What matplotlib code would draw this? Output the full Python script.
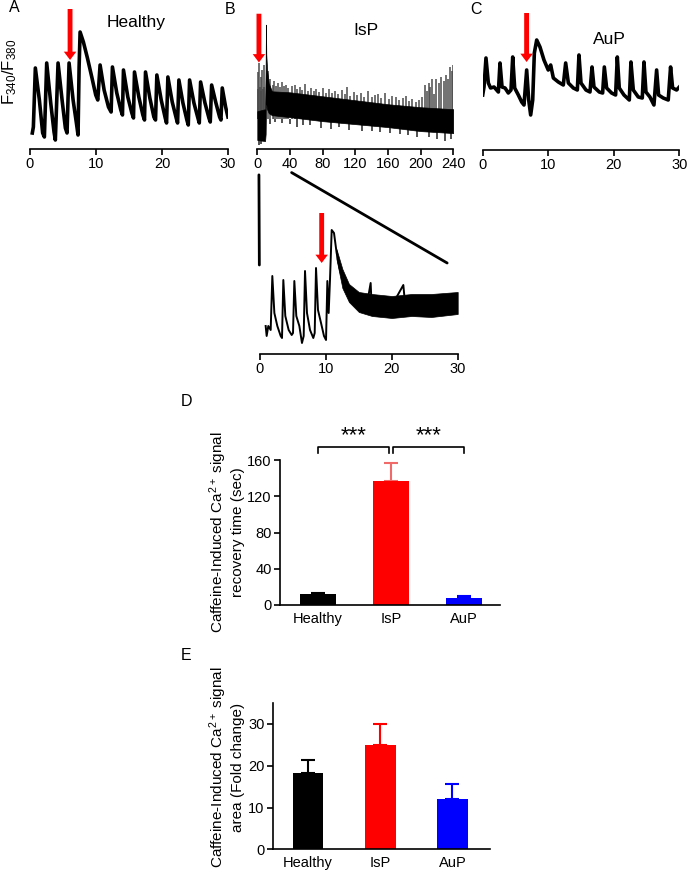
import matplotlib
matplotlib.use("Agg")
import matplotlib.pyplot as plt
from matplotlib.patches import ConnectionPatch

plt.rcParams['font.family'] = ['Liberation Sans', 'DejaVu Sans']

# ---- panel A: Healthy trace (time s, F340/F380 a.u.)
a_t = [0.35, 0.51, 0.81, 1.42, 1.92, 2.18, 2.53, 3.14, 3.64, 3.84, 4.25, 4.86, 5.36, 5.61,
       5.92, 6.53, 7.03, 7.28, 7.44, 7.59, 8.09, 8.70, 9.36, 9.96, 10.27, 10.62, 11.23, 11.89,
       12.29, 12.49, 13.15, 13.76, 14.01, 14.16, 14.82, 15.43, 15.68, 15.83, 16.49, 17.10,
       17.35, 17.50, 18.16, 18.77, 19.02, 19.22, 19.88, 20.49, 20.69, 20.89, 21.55, 22.15,
       22.36, 22.56, 23.17, 23.77, 23.98, 24.18, 24.84, 25.44, 25.65, 25.85, 26.51, 27.11,
       27.31, 27.52, 28.17, 28.73, 28.93, 29.13, 29.64, 29.99]
a_v = [0.16, 0.22, 0.81, 0.49, 0.16, 0.12, 0.86, 0.46, 0.17, 0.09, 0.86, 0.49, 0.21, 0.16,
       0.86, 0.49, 0.26, 0.14, 0.82, 1.17, 1.07, 0.91, 0.72, 0.54, 0.49, 0.84, 0.59, 0.42,
       0.37, 0.82, 0.56, 0.39, 0.34, 0.79, 0.52, 0.36, 0.31, 0.77, 0.52, 0.34,
       0.29, 0.77, 0.51, 0.32, 0.29, 0.74, 0.49, 0.31, 0.26, 0.72, 0.47, 0.31,
       0.26, 0.69, 0.46, 0.29, 0.24, 0.69, 0.46, 0.31, 0.26, 0.67, 0.46, 0.31,
       0.27, 0.64, 0.46, 0.32, 0.29, 0.61, 0.42, 0.32]

# ---- panel B: IsP trace, dense band (core envelope + spikes)
b_x = [0, 9.5, 10.2, 10.6, 11.0, 12, 14, 18, 40, 80, 120, 160, 200, 240]
b_upper = [0.38, 0.40, 0.80, 1.25, 0.95, 0.80, 0.66, 0.58, 0.57, 0.53, 0.49, 0.45, 0.42, 0.40]
b_lower = [0.09, 0.08, 0.15, 0.40, 0.45, 0.40, 0.36, 0.34, 0.32, 0.28, 0.25, 0.22, 0.18, 0.16]
b_up_x = [0.5, 1.2, 2.2, 3.0, 4.0, 5.0, 6.0, 7.0, 7.8, 8.6, 13, 16, 19, 21, 23, 25, 28, 30,
          33, 35, 38, 42, 46, 49, 52, 55, 58, 62, 66, 69, 72, 76, 80, 84, 88, 92, 95, 99,
          104, 107, 110, 114, 118, 122, 127, 131, 135, 140, 144, 148, 152, 156, 161, 165,
          170, 174, 178, 182, 186, 190, 194, 198, 202, 205, 208, 210, 212, 214, 216, 219,
          222, 225, 228, 231, 234, 236, 238, 239.5]
b_up_top = [0.77, 0.60, 0.86, 0.62, 0.72, 0.58, 0.79, 0.60, 0.84, 0.62, 0.78, 0.70, 0.64,
            0.68, 0.63, 0.66, 0.62, 0.67, 0.63, 0.64, 0.61, 0.63, 0.64, 0.60, 0.62, 0.59,
            0.65, 0.58, 0.61, 0.58, 0.60, 0.57, 0.61, 0.56, 0.60, 0.56, 0.58, 0.55, 0.59,
            0.55, 0.62, 0.53, 0.57, 0.54, 0.56, 0.52, 0.58, 0.52, 0.54, 0.55, 0.51, 0.56,
            0.50, 0.53, 0.52, 0.49, 0.51, 0.53, 0.48, 0.50, 0.47, 0.49, 0.52, 0.64, 0.58,
            0.66, 0.62, 0.70, 0.55, 0.70, 0.66, 0.72, 0.68, 0.74, 0.70, 0.82, 0.78, 0.84]
b_dn_x = [1.5, 5, 15, 22, 30, 40, 48, 56, 65, 78, 90, 100, 112, 128, 140, 150, 162, 175,
          185, 195, 210, 220, 230, 237]
b_dn_bot = [0.04, 0.05, 0.25, 0.27, 0.26, 0.25, 0.22, 0.24, 0.24, 0.21, 0.20, 0.22, 0.19,
            0.18, 0.18, 0.17, 0.16, 0.15, 0.14, 0.12, 0.12, 0.10, 0.08, 0.10]

# ---- panel C: AuP trace
c_t = [0, 0.2, 0.5, 0.86, 1.2, 1.73, 2.39, 2.64, 2.95, 3.41, 3.91, 4.32, 4.58, 4.88, 5.44,
       5.95, 6.30, 6.71, 7.02, 7.32, 7.63, 7.88, 8.24, 8.74, 9.35, 10.0, 10.37, 10.78, 11.54,
       12.3, 12.66, 13.07, 13.83, 14.44, 14.69, 15.0, 15.76, 16.37, 16.68, 16.98, 17.79,
       18.3, 18.56, 18.91, 19.67, 20.28, 20.54, 20.84, 21.56, 22.37, 22.62, 22.98, 23.74,
       24.35, 24.61, 24.91, 25.52, 26.13, 26.54, 26.84, 27.55, 28.31, 28.67, 28.98, 29.59, 30.0]
c_v = [0.55, 0.63, 0.92, 0.67, 0.62, 0.63, 0.58, 0.87, 0.63, 0.62, 0.57, 0.60, 0.93, 0.62,
       0.55, 0.48, 0.45, 0.80, 0.50, 0.35, 0.50, 0.97, 1.10, 1.03, 0.90, 0.80, 0.85, 0.72,
       0.68, 0.65, 0.87, 0.67, 0.62, 0.60, 0.95, 0.67, 0.60, 0.58, 0.83, 0.63, 0.58,
       0.57, 0.83, 0.62, 0.57, 0.55, 0.93, 0.62, 0.55, 0.50, 0.88, 0.60, 0.53,
       0.52, 0.88, 0.58, 0.53, 0.45, 0.80, 0.55, 0.52, 0.50, 0.83, 0.62, 0.60, 0.63]

# ---- inset: IsP first 30 s
i_t = [0.86, 1.01, 1.26, 1.62, 1.87, 2.18, 2.63, 3.14, 3.34, 3.54, 3.84, 4.35, 4.81, 5.01,
       5.21, 5.51, 5.97, 6.37, 6.63, 6.83, 7.13, 7.59, 8.09, 8.30, 8.50, 8.80, 9.26, 9.71,
       10.02, 10.22, 10.42, 10.62, 10.88, 11.23, 11.63, 12.14, 12.75, 13.40, 14.16, 15.17,
       16.19, 16.79, 16.94, 18.21, 19.22, 20.23, 21.75, 22.0, 23.27, 24.79, 26.30, 27.82,
       29.34, 30.0]
i_v = [0.28, 0.18, 0.28, 0.24, 0.78, 0.41, 0.28, 0.18, 0.16, 0.74, 0.38, 0.24, 0.19, 0.21,
       0.73, 0.38, 0.28, 0.11, 0.18, 0.83, 0.41, 0.24, 0.16, 0.21, 0.86, 0.44, 0.31, 0.18,
       0.14, 0.73, 0.41, 0.74, 1.24, 1.21, 1.01, 0.84, 0.71, 0.61, 0.53, 0.49,
       0.48, 0.71, 0.48, 0.49, 0.44, 0.51, 0.69, 0.51, 0.53, 0.51, 0.49, 0.51,
       0.53, 0.51]
i_band_x = [11.6, 12.5, 13.5, 15, 17, 20, 23, 26, 30]
i_band_hi = [1.05, 0.85, 0.70, 0.62, 0.60, 0.58, 0.60, 0.60, 0.62]
i_band_lo = [0.95, 0.66, 0.52, 0.42, 0.38, 0.36, 0.38, 0.37, 0.40]

# ---- bar charts
groups = ['Healthy', 'IsP', 'AuP']
bar_colors = ['black', 'red', 'blue']
rec_mean = [11.8, 136.5, 8.1]
rec_err = [1.1, 19.8, 1.5]
rec_err_colors = ['black', '#f06a6a', 'blue']
area_mean = [18.3, 25.0, 12.1]
area_err = [3.0, 5.0, 3.6]
area_err_colors = ['black', 'red', 'blue']

W, H = 687, 874
fig = plt.figure(figsize=(W / 100, H / 100), dpi=100)


def px_axes(l, t, r, b):
    return fig.add_axes([l / W, 1 - b / H, (r - l) / W, (b - t) / H])


def trace_style(ax, xmax, ticks):
    ax.set_xlim(0, xmax)
    ax.set_ylim(0, 1.3)
    for s in ['left', 'top', 'right']:
        ax.spines[s].set_visible(False)
    ax.spines['bottom'].set_linewidth(1.2)
    ax.set_yticks([])
    ax.set_xticks(ticks)
    ax.tick_params(axis='x', length=4, width=1.2, labelsize=10.5, pad=2)
    ax.patch.set_alpha(0)


def red_arrow(ax, x, tail, tip):
    ax.annotate('', xy=(x, tip), xytext=(x, tail), annotation_clip=False,
                arrowprops=dict(width=3.5, headwidth=9, headlength=6, color='red', lw=0))


# panel A
axA = px_axes(30, 19, 228, 149)
trace_style(axA, 30, [0, 10, 20, 30])
axA.plot(a_t, a_v, color='black', lw=2.6)
red_arrow(axA, 6.07, 1.40, 0.89)
axA.text(16.1, 1.26, 'Healthy', ha='center', va='center', fontsize=12.5)

# panel B
axB = px_axes(257.3, 19.7, 453.3, 149)
trace_style(axB, 240, [0, 40, 80, 120, 160, 200, 240])
axB.vlines(b_up_x, 0.3, b_up_top, color='#4a4a4a', lw=1.1, zorder=1)
axB.vlines(b_dn_x, b_dn_bot, 0.3, color='#222222', lw=1.1, zorder=1)
axB.fill_between(b_x, b_lower, b_upper, color='black', lw=0.5, zorder=2)
red_arrow(axB, 2.0, 1.36, 0.87)
axB.text(133, 1.19, 'IsP', ha='center', va='center', fontsize=12.5)

# panel C
axC = px_axes(482.7, 20, 679.3, 150)
trace_style(axC, 30, [0, 10, 20, 30])
axC.plot(c_t, c_v, color='black', lw=2.6)
red_arrow(axC, 6.7, 1.37, 0.88)
axC.text(19.4, 1.11, 'AuP', ha='center', va='center', fontsize=12.5)

# inset
axI = px_axes(260, 224, 457.7, 354)
trace_style(axI, 30, [0, 10, 20, 30])
axI.fill_between(i_band_x, i_band_lo, i_band_hi, color='black', lw=0.5)
axI.plot(i_t, i_v, color='black', lw=1.4)
red_arrow(axI, 9.36, 1.41, 0.91)

# zoom lines from B (0-40 s) to the inset
for (xa, ya), (xb, yb) in [((2, -0.26), (-0.1, 0.89)), ((42, -0.237), (28.4, 0.91))]:
    con = ConnectionPatch(xyA=(xa, ya), coordsA=axB.transData,
                          xyB=(xb, yb), coordsB=axI.transData, color='black', lw=2)
    fig.add_artist(con)

fig.text(10 / W, 1 - 72 / H, r'$\mathregular{F_{340}/F_{380}}$', rotation=90,
         ha='center', va='center', fontsize=12)
for lab, x, y in [('A', 14, 7), ('B', 230, 9), ('C', 476, 10), ('D', 186, 402), ('E', 186, 655)]:
    fig.text(x / W, 1 - y / H, lab, ha='center', va='center', fontsize=11.5)


def bar_style(ax, ylim, ticks):
    ax.set_ylim(*ylim)
    ax.set_yticks(ticks)
    for s in ['top', 'right']:
        ax.spines[s].set_visible(False)
    for s in ['left', 'bottom']:
        ax.spines[s].set_linewidth(1.2)
    ax.tick_params(axis='y', length=4, width=1.2, labelsize=10.5, pad=2)
    ax.tick_params(axis='x', length=0, labelsize=10.5, pad=5)


# panel D
axD = px_axes(280, 460, 500, 605)
xs = [0, 1, 2]
axD.bar(xs, rec_mean, width=0.5, color=bar_colors, zorder=2)
for x, m, e, c in zip(xs, rec_mean, rec_err, rec_err_colors):
    axD.errorbar(x, m, yerr=[[0], [e]], color=c, capsize=5, lw=1.5, capthick=1.5, zorder=1)
axD.set_xlim(-0.52, 2.49)
axD.set_xticks(xs)
axD.set_xticklabels(groups)
bar_style(axD, (0, 160), [0, 40, 80, 120, 160])
axD.set_ylabel('Caffeine-Induced Ca$\\mathregular{^{2+}}$ signal\nrecovery time (sec)',
               fontsize=11, linespacing=1.15)
axD.yaxis.set_label_coords(-0.16, 0.5)
for x0, x1 in [(0, 0.97), (1.03, 2.0)]:
    axD.plot([x0, x0, x1, x1], [168, 174.5, 174.5, 168], color='black', lw=1.2, clip_on=False)
    axD.text((x0 + x1) / 2, 175, '***', ha='center', va='bottom', fontsize=16)

# panel E
axE = px_axes(272.7, 703, 490, 849.3)
axE.bar(xs, area_mean, width=0.425, color=bar_colors, zorder=2)
for x, m, e, c in zip(xs, area_mean, area_err, area_err_colors):
    axE.errorbar(x, m, yerr=[[0], [e]], color=c, capsize=5, lw=1.5, capthick=1.5, zorder=1)
axE.set_xlim(-0.49, 2.52)
axE.set_xticks(xs)
axE.set_xticklabels(groups)
bar_style(axE, (0, 35), [0, 10, 20, 30])
axE.set_ylabel('Caffeine-Induced Ca$\\mathregular{^{2+}}$ signal\narea (Fold change)',
               fontsize=11, linespacing=1.15)
axE.yaxis.set_label_coords(-0.127, 0.56)

fig.savefig('out.png', dpi=100)
